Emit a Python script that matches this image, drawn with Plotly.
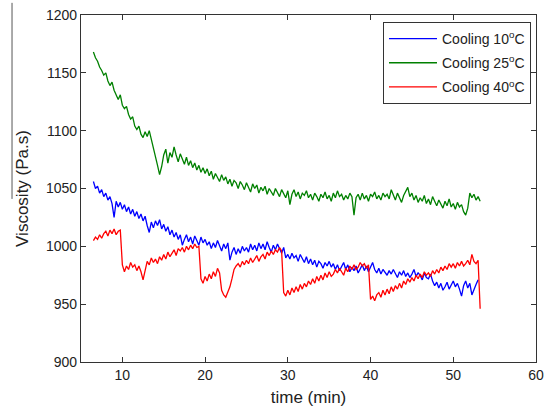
import plotly.graph_objects as go

time_min = [
    6.5, 6.75,
    7.0, 7.25, 7.5, 7.75, 8.0, 8.25, 8.5, 8.75, 9.0, 9.25, 9.5, 9.75,
    10.0, 10.25, 10.5, 10.75, 11.0, 11.25, 11.5, 11.75, 12.0, 12.25, 12.5, 12.75,
    13.0, 13.25, 13.5, 13.75, 14.0, 14.25, 14.5, 14.75, 15.0, 15.25, 15.5, 15.75,
    16.0, 16.25, 16.5, 16.75, 17.0, 17.25, 17.5, 17.75, 18.0, 18.25, 18.5, 18.75,
    19.0, 19.25, 19.5, 19.75, 20.0, 20.25, 20.5, 20.75, 21.0, 21.25, 21.5, 21.75,
    22.0, 22.25, 22.5, 22.75, 23.0, 23.25, 23.5, 23.75, 24.0, 24.25, 24.5, 24.75,
    25.0, 25.25, 25.5, 25.75, 26.0, 26.25, 26.5, 26.75, 27.0, 27.25, 27.5, 27.75,
    28.0, 28.25, 28.5, 28.75, 29.0, 29.25, 29.5, 29.75, 30.0, 30.25, 30.5, 30.75,
    31.0, 31.25, 31.5, 31.75, 32.0, 32.25, 32.5, 32.75, 33.0, 33.25, 33.5, 33.75,
    34.0, 34.25, 34.5, 34.75, 35.0, 35.25, 35.5, 35.75, 36.0, 36.25, 36.5, 36.75,
    37.0, 37.25, 37.5, 37.75, 38.0, 38.25, 38.5, 38.75, 39.0, 39.25, 39.5, 39.75,
    40.0, 40.25, 40.5, 40.75, 41.0, 41.25, 41.5, 41.75, 42.0, 42.25, 42.5, 42.75,
    43.0, 43.25, 43.5, 43.75, 44.0, 44.25, 44.5, 44.75, 45.0, 45.25, 45.5, 45.75,
    46.0, 46.25, 46.5, 46.75, 47.0, 47.25, 47.5, 47.75, 48.0, 48.25, 48.5, 48.75,
    49.0, 49.25, 49.5, 49.75, 50.0, 50.25, 50.5, 50.75, 51.0, 51.25, 51.5, 51.75,
    52.0, 52.25, 52.5, 52.75, 53.0, 53.25,
]

cooling_10 = [
    1056, 1050,
    1052, 1046, 1049, 1043, 1046, 1040, 1043, 1037, 1025, 1039, 1034, 1038,
    1032, 1036, 1030, 1034, 1028, 1032, 1026, 1030, 1024, 1028, 1022, 1026,
    1018, 1012, 1021, 1016, 1022, 1018, 1023, 1015, 1019, 1013, 1017, 1010,
    1014, 1008, 1012, 1006, 1010, 1001, 1006, 1010, 1004, 1008, 1002, 1009,
    1005, 1001, 1008, 1003, 1006, 1001, 1004, 998, 1003, 999, 1005, 1000,
    996, 1002, 998, 1003, 988, 995, 999, 993, 998, 994, 1000, 996,
    999, 995, 1002, 997, 1001, 996, 1003, 998, 1002, 997, 1004, 999,
    995, 1001, 997, 1002, 998, 994, 999, 990, 993, 989, 994, 990,
    992, 987, 993, 989, 986, 991, 985, 989, 984, 988, 982, 987,
    985, 981, 986, 983, 987, 982, 985, 980, 984, 979, 983, 986,
    980, 984, 978, 982, 979, 983, 977, 981, 984, 979, 983, 978,
    982, 986, 980, 977, 981, 976, 980, 977, 975, 979, 976, 980,
    977, 973, 978, 975, 979, 974, 977, 973, 976, 980, 974, 977,
    975, 971, 977, 973, 972, 976, 970, 966, 969, 964, 968, 962,
    965, 969, 963, 967, 970, 965, 968, 963, 957, 966, 970, 964,
    968, 958, 963, 967, 971, None,
]

cooling_25 = [
    1168, 1163,
    1160, 1155, 1152, 1148, 1150, 1143, 1139, 1142, 1135, 1131, 1127, 1131,
    1122, 1119, 1121, 1114, 1110, 1112, 1104, 1101, 1104, 1097, 1094, 1099,
    1095, 1100, 1093, 1085, 1078, 1070, 1062, 1069, 1079, 1084, 1072, 1081,
    1077, 1086, 1079, 1073, 1080, 1075, 1071, 1077, 1070, 1074, 1068, 1072,
    1066, 1070, 1064, 1068, 1063, 1067, 1061, 1065, 1058, 1063, 1060, 1056,
    1062, 1057, 1060, 1054, 1058, 1052, 1057, 1055, 1050, 1056, 1053, 1049,
    1055, 1051, 1047, 1054, 1050, 1053, 1046, 1051, 1048, 1052, 1045, 1050,
    1047, 1044, 1050, 1046, 1043, 1049, 1046, 1042, 1048, 1036, 1045, 1049,
    1043, 1047, 1041, 1046, 1044, 1048, 1042, 1045, 1040, 1046, 1043, 1039,
    1045, 1042, 1047, 1041, 1044, 1039, 1046, 1042, 1048, 1043, 1045, 1040,
    1044, 1041, 1046, 1043, 1027, 1042, 1045, 1040, 1046, 1041, 1044, 1039,
    1045, 1043, 1047, 1041, 1044, 1040, 1046, 1043, 1045, 1041, 1049, 1044,
    1040, 1046, 1042, 1038, 1044, 1047, 1051, 1043, 1046, 1040, 1044, 1038,
    1042, 1039, 1044, 1037, 1041, 1036, 1043, 1039, 1035, 1040, 1037, 1033,
    1039, 1035, 1041, 1034, 1037, 1032, 1038, 1034, 1036, 1030, 1027, 1033,
    1046, 1042, 1045, 1040, 1043, 1039,
]

cooling_40 = [
    1005, 1008,
    1006, 1010, 1007, 1011, 1013, 1009, 1014, 1011, 1015, 1010, 1013, 1014,
    984, 978, 983, 980, 986, 982, 984, 979, 983, 978, 971, 980,
    987, 984, 990, 986, 989, 985, 991, 988, 993, 989, 995, 991,
    994, 997, 992, 998, 996, 999, 995, 1000, 997, 1001, 998, 1002,
    999, 1000, 972, 968, 974, 970, 976, 972, 978, 974, 981, 977,
    962, 958, 956, 960, 965, 972, 980, 983, 985, 982, 987, 984,
    988, 985, 990, 986, 989, 992, 987, 991, 993, 989, 995, 992,
    996, 993, 997, 995, 999, 996, 960, 957, 962, 958, 964, 960,
    965, 961, 967, 963, 968, 965, 970, 967, 972, 968, 974, 970,
    975, 971, 977, 973, 978, 974, 976, 980, 977, 981, 978, 975,
    981, 978, 983, 980, 984, 980, 982, 986, 983, 985, 981, 984,
    954, 957, 953, 958, 960, 956, 962, 958, 963, 959, 965, 961,
    966, 963, 968, 964, 970, 967, 972, 969, 973, 970, 975, 972,
    976, 973, 978, 975, 977, 974, 979, 976, 980, 977, 982, 979,
    983, 980, 985, 982, 985, 981, 986, 983, 987, 983, 985, 988,
    984, 993, 987, 985, 988, 946,
]

series_names = ["Cooling 10<sup>o</sup>C", "Cooling 25<sup>o</sup>C", "Cooling 40<sup>o</sup>C"]
series_colors = ["#0000FF", "#008000", "#FF0000"]
series_values = [cooling_10, cooling_25, cooling_40]

x_ticks = [10, 20, 30, 40, 50, 60]
y_ticks = [900, 950, 1000, 1050, 1100, 1150, 1200]

fig = go.Figure()
for i, (name, color, vals) in enumerate(zip(series_names, series_colors, series_values)):
    fig.add_trace(go.Scatter(
        x=time_min, y=vals, mode="lines", name=name, legendgroup=f"g{i}",
        line=dict(color=color, width=1.3),
    ))

axis_common = dict(
    showline=True, linecolor="#333333", linewidth=1.3, mirror="allticks",
    ticks="inside", ticklen=5, tickcolor="#333333", tickwidth=1,
    showgrid=False, zeroline=False, automargin=False,
    tickfont=dict(family="Liberation Sans, Arial, sans-serif", size=14, color="#222222"),
)

fig.update_layout(
    width=553, height=411,
    margin=dict(l=81, r=17, t=15, b=49, autoexpand=False),
    paper_bgcolor="white", plot_bgcolor="white",
    font=dict(family="Liberation Sans, Arial, sans-serif", color="#222222"),
    xaxis=dict(range=[5, 60], tickvals=x_ticks,
               title=dict(text="time (min)", font=dict(size=17), standoff=9),
               **axis_common),
    yaxis=dict(range=[900, 1200], tickvals=y_ticks,
               title=dict(text="Viscosity (Pa.s)", font=dict(size=17), standoff=12),
               **axis_common),
    legend=dict(
        x=0.989, y=0.98, xanchor="right", yanchor="top",
        bordercolor="#333333", borderwidth=1, bgcolor="white",
        font=dict(size=14, color="#222222"),
        itemwidth=48, tracegroupgap=3,
    ),
    showlegend=True,
    shapes=[dict(type="line", xref="paper", yref="paper",
                 x0=-0.1516, x1=-0.1516, y0=1.035, y1=0.47,
                 line=dict(color="#555555", width=1))],
)

fig.write_html("out.html", config={"displayModeBar": False},
               post_script="document.body.style.margin='0';")
